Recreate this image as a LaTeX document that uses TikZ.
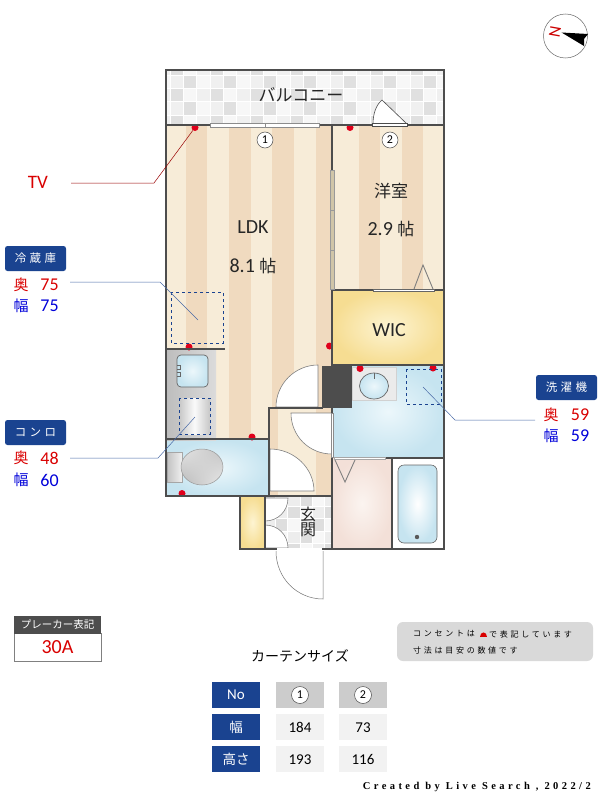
\documentclass[tikz,border=0pt]{standalone}
\usepackage{fontspec}
\usepackage{tikz}
\usetikzlibrary{positioning,shadings}
\setmainfont{Noto Sans CJK JP}
\newfontfamily\latinfont[Numbers=Lining]{Carlito}
\newfontfamily\spacedfont[LetterSpace=30]{Noto Sans CJK JP}
\newfontfamily\notefont[LetterSpace=34]{Noto Sans CJK JP}
\newfontfamily\footfont[LetterSpace=32.5]{Liberation Serif}
\definecolor{wallgrey}{HTML}{4D4D4D}
\definecolor{stripelight}{HTML}{F7ECD8}
\definecolor{stripedark}{HTML}{F0DABF}
\definecolor{labelblue}{HTML}{1A4390}
\definecolor{socketred}{HTML}{E0001B}
\definecolor{wicin}{HTML}{FDF4D2}
\definecolor{wicout}{HTML}{F6DD92}
\definecolor{bluein}{HTML}{ECF7FB}
\definecolor{blueout}{HTML}{C6E4F0}
\definecolor{pinkin}{HTML}{FBF4F0}
\definecolor{pinkout}{HTML}{F3E0D8}
\definecolor{slidebeige}{HTML}{D0C5A8}
\tikzset{
  wall/.style={draw=wallgrey,line width=2.8pt,line cap=rect},
  thinline/.style={draw=black!55,line width=.5pt},
  door/.style={fill=white,draw=black!50,line width=.6pt},
  socket/.style={circle,fill=socketred,inner sep=0pt,minimum size=7pt},
  dashbox/.style={draw=labelblue,dashed,line width=.7pt},
  roomtext/.style={text=black!85,font=\fontsize{17}{17}\selectfont},
  numtext/.style={text=black!85,font=\latinfont\fontsize{20}{20}\selectfont},
  labelbox/.style={fill=labelblue,rounded corners=2.5pt,minimum width=61pt,minimum height=25pt,inner sep=0pt,text=white,font=\spacedfont\fontsize{11.5}{12}\selectfont},
  deep/.style={text=red!85!black,font=\fontsize{15}{15}\selectfont},
  wide/.style={text=blue!85!black,font=\fontsize{15}{15}\selectfont},
  deepnum/.style={text=red!85!black,font=\latinfont\fontsize{18}{18}\selectfont},
  widenum/.style={text=blue!85!black,font=\latinfont\fontsize{18}{18}\selectfont},
  redlead/.style={draw=red!60!black,line width=.5pt},
  bluelead/.style={draw=labelblue!80,line width=.5pt},
  bubble/.style={circle,draw=black!70,fill=white,line width=.5pt,inner sep=0pt,minimum size=16pt,font=\latinfont\fontsize{12}{12}\selectfont},
  headcell/.style={fill=labelblue,minimum width=48pt,minimum height=26pt,inner sep=0pt,text=white,font=\fontsize{13.5}{14}\selectfont},
  greycell/.style={fill=black!20,minimum width=48pt,minimum height=26pt,inner sep=0pt},
  valuecell/.style={fill=black!5,minimum width=48pt,minimum height=26pt,inner sep=0pt,text height=10pt,text depth=0pt,font=\latinfont\fontsize{15}{15}\selectfont},
  notetext/.style={inner sep=0pt,font=\notefont\fontsize{8}{8}\selectfont},
}
\begin{document}
\begin{tikzpicture}[x=1pt,y=-1pt]
\useasboundingbox (0,0) rectangle (600,800);

% balcony tiles
\begin{scope}
\clip (166,70) rectangle (444,125);
\fill[black!5] (166,70) rectangle (444,125);
\foreach \i in {0,...,21}{
  \foreach \j in {0,...,4}{
    \pgfmathtruncatemacro\tone{mod(\i+1-mod(\j,2)+1,3)}
    \pgfmathsetmacro\pct{\tone==0?12:(\tone==1?3:6)}
    \fill[black!\pct,draw=white,line width=.5pt] (156.7+13.33*\i,61.7+13.33*\j) rectangle +(13.33,13.33);
  }
}
\end{scope}

% floors
\fill[stripelight] (166,125) rectangle (332,350);
\fill[stripelight] (216,350) rectangle (332,440);
\foreach \xa/\xb in {186/207,229/251,272/294,316/332}{
  \fill[stripedark] (\xa,125) rectangle (\xb,350);
  \fill[stripedark] ({max(\xa,216)},350) rectangle (\xb,440);
}
\fill[stripelight] (332,125) rectangle (444,290);
\foreach \xa/\xb in {359/380,402/423}{
  \fill[stripedark] (\xa,125) rectangle (\xb,290);
}
\fill[stripelight] (269,408) rectangle (332,496);
\fill[stripedark] (270,408) rectangle (278,496);
\fill[stripedark] (316,408) rectangle (332,496);
\shade[inner color=wicin,outer color=wicout] (332,290) rectangle (444,365);
\shade[inner color=bluein,outer color=blueout] (332,365) rectangle (444,458);
\shade[inner color=pinkin,outer color=pinkout] (332,458) rectangle (392,549);
\fill[white] (392,458) rectangle (444,549);
\shade[inner color=bluein,outer color=blueout] (166,440) rectangle (269,496);
\shade[left color=black!26,right color=black!14] (166,350) rectangle (216,440);
\shade[left color=black!22,right color=black!22,middle color=black!2] (179,398) rectangle (210,434);
\shade[inner color=wicin,outer color=wicout] (240,496) rectangle (265,549);

% genkan tiles
\begin{scope}
\clip (265,497) rectangle (332,549);
\fill[black!3] (265,497) rectangle (332,549);
\foreach \i in {0,...,5}{
  \foreach \j in {0,...,4}{
    \pgfmathtruncatemacro\tone{mod(\i+\j,3)}
    \pgfmathsetmacro\pct{\tone==0?13:(\tone==1?3:7)}
    \fill[black!\pct,draw=white,line width=.4pt] (263+12.3*\i,494+12.3*\j) rectangle +(12.3,12.3);
  }
}
\end{scope}

% kitchen, toilet, sink, bath
\draw[draw=black!60,line width=.7pt,inner color=bluein,outer color=blueout,shade,rounded corners=4pt] (177,355) rectangle (208,387);
\draw[black!60,line width=.5pt] (177,365) -- (180,365) -- (180,369) -- (177,369);
\draw[black!60,line width=.5pt] (177,372) -- (180,372) -- (180,376) -- (177,376);
\draw[dashbox] (179,398) rectangle (210,434);
\shade[left color=black!24,right color=black!6,draw=black!35,line width=.5pt] (167,452) rectangle (182,482);
\shade[upper left=black!10,upper right=black!24,lower left=black!28,lower right=black!8,draw=black!40,line width=.5pt] (202,467) ellipse [x radius=21,y radius=18];
\fill[black!8,draw=black!18] (352,367) rectangle (396,400);
\shade[inner color=bluein,outer color=blueout,draw=black!60,line width=.7pt] (374,386) ellipse [x radius=14.5,y radius=13];
\draw[black!60,line width=.6pt] (374,373) -- (374,379);
\shade[inner color=white,outer color=blueout,draw=black!60,line width=.6pt,rounded corners=6pt] (398,465) rectangle (437,543);
\fill[black!65] (417,537) circle (2.2);

% doors
\draw[door] (318,407) -- (318,365) .. controls (295,365) and (276,384) .. (276,407) -- cycle;
\draw[door] (332,413) -- (291,413) .. controls (291,436) and (309,454) .. (332,454) -- cycle;
\draw[door] (270,491) -- (270,449) .. controls (294,449) and (314,468) .. (314,491) -- cycle;
\draw[door] (265,498) -- (288,498) .. controls (288,511) and (278,521) .. (265,521) -- cycle;
\draw[door] (265,548) -- (265,525) .. controls (278,525) and (288,535) .. (288,548) -- cycle;
\draw[thinline] (323,551) -- (323,599) .. controls (297,599) and (276,578) .. (276,551);

% sockets
\node[socket] (sockettv) at (195,127.5) {};
\node[socket] (socketbed) at (350,127.5) {};
\node[socket] (socketfridge) at (189,347) {};
\node[socket] (socketwall) at (329.5,346) {};
\node[socket] (socketkitchen) at (252,437) {};
\node[socket] (sockettoilet) at (182,493.5) {};
\node[socket] (socketsink) at (360,368.5) {};
\node[socket] (socketwasher) at (433,368) {};

% walls
\draw[wall] (166,70) -- (444,70) -- (444,549) -- (240,549) -- (240,496) -- (166,496) -- cycle;
\draw[wall] (166,125) -- (444,125);
\draw[wall] (332,125) -- (332,170);
\draw[wall] (332,290) -- (444,290);
\draw[wall] (332,290) -- (332,366);
\draw[wall] (332,365) -- (444,365);
\draw[wall] (166,349) -- (224,349);
\draw[wall] (166,439) -- (269,439);
\draw[wall] (269,408) -- (269,496);
\draw[wall] (269,408) -- (322,408);
\draw[wall] (240,496) -- (332,496);
\draw[wall] (332,457) -- (332,549);
\draw[wall] (332,408) -- (332,413);
\draw[wall] (385,458) -- (444,458);
\draw[wall] (265,497) -- (265,549);
\draw[draw=wallgrey,line width=1.4pt] (392,458) -- (392,549);
\fill[wallgrey] (322,366) rectangle (352,408);

% sliding door and openings
\draw[fill=slidebeige,draw=black!40,line width=.4pt] (330,170) rectangle (334,210);
\draw[fill=slidebeige,draw=black!40,line width=.4pt] (330,210) rectangle (334,250);
\draw[fill=slidebeige,draw=black!40,line width=.4pt] (330,250) rectangle (334,289);
\draw[fill=white,draw=black!60,line width=.5pt] (373,289) rectangle (434,291);
\draw[fill=white,draw=black!35,line width=.5pt] (334,457) rectangle (385,459);
\draw[fill=white,draw=black!45,line width=.4pt] (331,413) rectangle (333,457);
\draw[white,line width=1.4pt] (277,549) -- (322,549);
\draw[black!50,line width=.9pt] (414,289) -- (423,265) -- (433,289);
\draw[black!50,line width=.9pt] (335,460) -- (345,482) -- (355,460);

% windows
\draw[fill=white,draw=black!45,line width=.5pt] (210,123) rectangle (319,127);
\draw[black!45,line width=.5pt] (265,123) -- (265,127);
\draw[door,draw=black!70] (407,124) -- (382,100) .. controls (376,105) and (373,114) .. (373,124) -- cycle;
\draw[fill=white,draw=black!70,line width=.6pt] (372,123) rectangle (407,126);

% fridge and washer
\draw[dashbox] (171,292) rectangle (223,343);
\draw[dashbox] (406,369) rectangle (441,404);

\node[bubble] (bubbleone) at (265,140) {1};
\node[bubble] (bubbletwo) at (390,140) {2};

% room names
\node[roomtext] (balcony) at (301,95) {バルコニー};
\node[numtext] (ldk) at (253,227) {LDK};
\node[numtext] (ldksize) at (253,266) {8.1 \fontsize{17}{17}\selectfont\rmfamily 帖};
\node[roomtext] (western) at (391,191) {洋室};
\node[numtext] (westernsize) at (391,229) {2.9 \fontsize{17}{17}\selectfont\rmfamily 帖};
\node[numtext] (wic) at (389,330) {WIC};
\node[inner sep=0pt,text=black!85,font=\fontsize{16}{16}\selectfont] (genkanup) at (308,514) {玄};
\node[inner sep=0pt,text=black!85,font=\fontsize{16}{16}\selectfont,below=.5pt of genkanup] (genkandown) {関};

% compass
\draw[black!60,line width=.5pt] (565.5,36) circle (22);
\node[text=red!80!black,rotate=-100,inner sep=0pt,font=\latinfont\fontsize{17}{17}\selectfont] (north) at (555,31.5) {N};
\fill[black] (561.5,32.5) -- (588,34) -- (584,39) -- (584,46) -- cycle;

% left labels
\node[text=red!85!black,font=\latinfont\fontsize{19}{19}\selectfont,inner sep=0pt] (tv) at (38,182) {TV};
\coordinate (tvstart) at (71,183);
\coordinate (tvbend) at (154,183);
\draw[redlead] (tvstart) -- (tvbend) -- (sockettv);

\node[labelbox] (fridge) at (35.5,258.5) {冷蔵庫};
\node[deep] (fridgedeep) at (21,285) {奥};
\node[deepnum] (fridgedeepnum) at (49.5,285) {75};
\node[wide] (fridgewide) at (21,306) {幅};
\node[widenum] (fridgewidenum) at (49.5,306) {75};
\coordinate (fridgestart) at (70,282);
\coordinate (fridgebend) at (160,282);
\coordinate (fridgeend) at (198,320);
\draw[bluelead] (fridgestart) -- (fridgebend) -- (fridgeend);

\node[labelbox] (stove) at (35.5,432.5) {コンロ};
\node[deep] (stovedeep) at (21,458) {奥};
\node[deepnum] (stovedeepnum) at (49.5,458) {48};
\node[wide] (stovewide) at (21,480) {幅};
\node[widenum] (stovewidenum) at (49.5,480) {60};
\coordinate (stovestart) at (70,458);
\coordinate (stovebend) at (158,458);
\coordinate (stoveend) at (195,417);
\draw[bluelead] (stovestart) -- (stovebend) -- (stoveend);

% washer label
\node[labelbox] (washer) at (566.5,387.5) {洗濯機};
\node[deep] (washerdeep) at (551,415) {奥};
\node[deepnum] (washerdeepnum) at (580,415) {59};
\node[wide] (washerwide) at (551,436) {幅};
\node[widenum] (washerwidenum) at (580,436) {59};
\coordinate (washerstart) at (423,387);
\coordinate (washerbend) at (455,420);
\coordinate (washerend) at (535,420);
\draw[bluelead] (washerstart) -- (washerbend) -- (washerend);

% breaker
\draw[fill=white,draw=black!50,line width=.8pt] (14,633) rectangle (101,661);
\node[fill=wallgrey,text=white,minimum width=87pt,minimum height=18pt,inner sep=0pt,font=\fontsize{10.5}{11}\selectfont] (breaker) at (57.5,624.5) {プレーカー表記};
\node[text=red!85!black,inner sep=0pt,font=\latinfont\fontsize{20}{20}\selectfont] (amps) at (57.5,647) {30A};

% note
\fill[black!15,rounded corners=6pt] (397,622) rectangle (593,661);
\node[notetext,anchor=west] (notea) at (413,634) {コンセントは};
\draw[fill=red!85!black,draw=none] (480,636.5) .. controls (480,630.5) and (487,630.5) .. (487,636.5) -- cycle;
\node[notetext,anchor=west] (noteb) at (489,634) {で表記しています};
\node[notetext,anchor=west] (notec) at (413,650) {寸法は目安の数値です};

% curtain table
\node[font=\fontsize{14}{14}\selectfont,inner sep=0pt] (curtain) at (300,656) {カーテンサイズ};
\node[headcell,font=\latinfont\fontsize{15}{15}\selectfont] (headno) at (236,695) {No};
\node[greycell] (headone) at (300,695) {};
\node[greycell] (headtwo) at (363,695) {};
\node[bubble,minimum size=17pt] (headonemark) at (300,695) {1};
\node[bubble,minimum size=17pt] (headtwomark) at (363,695) {2};
\node[headcell] (headwide) at (236,727) {幅};
\node[valuecell] (wideone) at (300,727) {184};
\node[valuecell] (widetwo) at (363,727) {73};
\node[headcell] (headtall) at (236,759) {高さ};
\node[valuecell] (tallone) at (300,759) {193};
\node[valuecell] (talltwo) at (363,759) {116};

\node[anchor=east,inner sep=0pt,font=\footfont\bfseries\fontsize{10.5}{10.5}\selectfont] (credit) at (591,787) {Created by Live Search , 2022/2};

\end{tikzpicture}
\end{document}
